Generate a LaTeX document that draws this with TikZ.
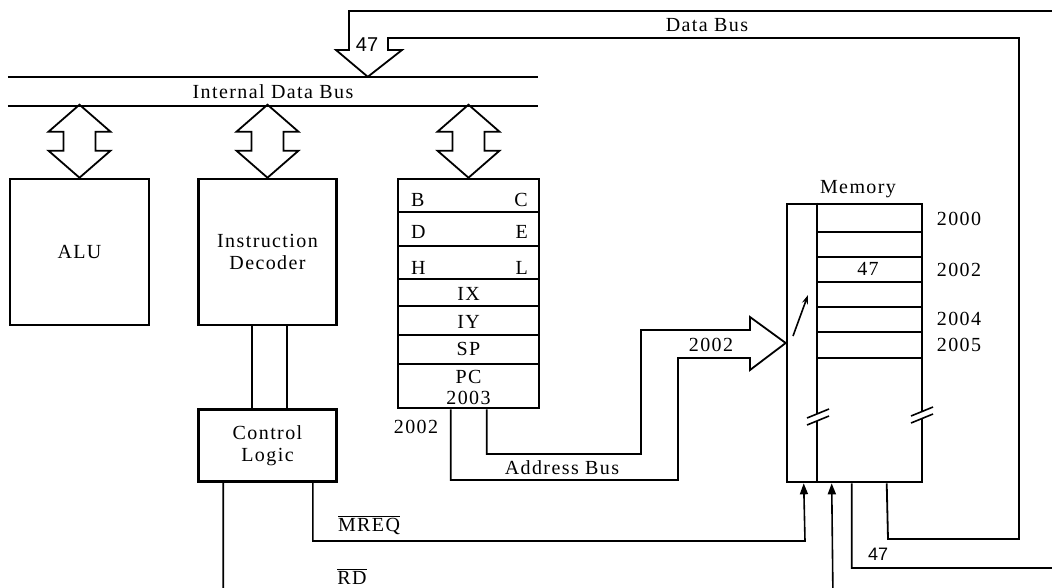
\documentclass[tikz,border=0pt]{standalone}
\usepackage{fontspec}
\setmainfont{Liberation Serif}[LetterSpace=7]
\newfontfamily\busfont{Liberation Sans}
\usetikzlibrary{arrows.meta,calc}
\newcommand\dblarrow[1]{\draw[fat] (#1) -- ++(-31,-27) -- ++(15,0) -- ++(0,-19) -- ++(-15,0) -- ++(31,-27) -- ++(31,27) -- ++(-15,0) -- ++(0,19) -- ++(15,0) -- cycle;}
\newcommand\brkmark[2]{\fill[white] (#1-11,#2+6) -- (#1+11,#2-3) -- (#1+11,#2-10) -- (#1-11,#2-1) -- cycle;
  \draw[thin] (#1-11,#2+6) -- (#1+11,#2-3) (#1-11,#2-1) -- (#1+11,#2-10);}
\begin{document}
\begin{tikzpicture}[x=1pt,y=-1pt,
  lbl/.style={font=\fontsize{20}{21.5}\selectfont,inner sep=0pt,align=center},
  box/.style={draw,line width=2.6pt,inner sep=0pt,lbl},
  thin/.style={line width=1.6pt},
  fat/.style={line width=1.8pt,line join=miter},
  tip/.style={-{Triangle[length=11pt,width=8pt]}},
  busnum/.style={font=\busfont\fontsize{20}{20}\selectfont,inner sep=0pt}
]
\clip (0,0) rectangle (1052,587);
\fill[white] (0,0) rectangle (1052,587);

% internal data bus
\node[lbl,minimum width=530pt,minimum height=29pt] (ibus) at (273,91.5) {Internal Data Bus};
\draw[thin] (ibus.north west) -- (ibus.north east) (ibus.south west) -- (ibus.south east);

% blocks
\node[box,minimum width=139pt,minimum height=146pt] (alu) at (79.5,252) {ALU};
\node[box,minimum width=138pt,minimum height=146pt] (dec) at (267.5,252) {Instruction\\Decoder};
\node[box,minimum width=138pt,minimum height=72pt] (ctrl) at (267.5,445.5) {Control\\Logic};
\node[box,minimum width=141pt,minimum height=229pt] (regs) at (468.5,293.5) {};
\node[box,minimum width=135pt,minimum height=278pt] (mem) at (854.5,343) {};

% bus arrows
\dblarrow{alu.north}
\dblarrow{dec.north}
\dblarrow{regs.north}

% register rows
\foreach \y in {212,246,279,306,335,364} \draw[thin] (398,\y) -- (539,\y);
\node[lbl,anchor=west] at (411,200) {B};
\node[lbl,anchor=east] at (528,200) {C};
\node[lbl,anchor=west] at (411,232) {D};
\node[lbl,anchor=east] at (528,232) {E};
\node[lbl,anchor=west] at (411,268) {H};
\node[lbl,anchor=east] at (528,268) {L};
\node[lbl] at (468.5,294) {IX};
\node[lbl] at (468.5,322) {IY};
\node[lbl] at (468.5,349) {SP};
\node[lbl] at (468.5,387.5) {PC\\2003};

% decoder - control
\draw[thin] ($(dec.south)+(-15.5,0)$) -- ($(ctrl.north)+(-15.5,0)$);
\draw[thin] ($(dec.south)+(19.5,0)$) -- ($(ctrl.north)+(19.5,0)$);

% memory internals
\node[lbl] (memlbl) at (858,189) {Memory};
\draw[thin] ($(mem.north west)+(31,0)$) -- ($(mem.south west)+(31,0)$);
\foreach \y in {232,257,282,307,332,358} \draw[thin] (818,\y) -- (922,\y);
\node[lbl] at (868,269) {47};
\node[lbl] at (959,219) {2000};
\node[lbl] at (959,270) {2002};
\node[lbl] at (959,319) {2004};
\node[lbl] at (959,345) {2005};
\draw[thin,-{Stealth[length=9pt,width=6pt]}] (793,336) -- (808,295);
\brkmark{818}{419}
\brkmark{922}{417}

% address bus
\draw[fat] ($(regs.south west)+(90,0)$) |- (641,454) |- (750,330) -- (750,317) -- (mem.west)
  -- (750,370) -- (750,358) -| (678,480) -| ($(regs.south west)+(54,0)$);
\node[lbl] (a2002) at (711,345) {2002};
\node[lbl] (r2002) at (416,427) {2002};
\node[lbl] (abus) at (562,468) {Address Bus};

% data bus
\coordinate (dtip) at ($(ibus.north west)+(360,0)$);
\draw[fat] ($(mem.south west)+(66,0)$) |- (1064,568) |- (349,11) -- (349,50) -- (336,50) -- (dtip)
  -- (402,50) -- (388,50) |- (1019,38) |- (888,539) -- ($(mem.south west)+(101,0)$);
\node[lbl] (dbus) at (707,25) {Data Bus};
\node[busnum] at (367,45) {47};
\node[busnum,font=\busfont\fontsize{18}{18}\selectfont] at (878,554) {47};

% control lines
\draw[thin,tip] ($(ctrl.south east)+(-25,0)$) |- (805,541) -- ($(mem.south west)+(18,0)$);
\draw[thin,tip] ($(ctrl.south west)+(26,0)$) |- (833,600) -- ($(mem.south west)+(46,0)$);
\node[lbl,anchor=base] (mreq) at (369,531) {$\overline{\mbox{MREQ}}$};
\node[lbl,anchor=base] (rd) at (352,584) {$\overline{\mbox{RD}}$};
\end{tikzpicture}
\end{document}
